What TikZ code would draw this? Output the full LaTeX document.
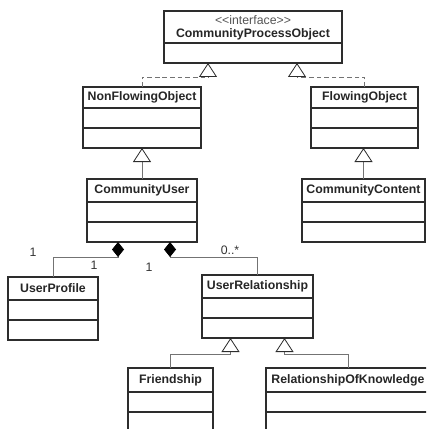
\documentclass[tikz,border=0pt]{standalone}
\usepackage{fontspec}
\setmainfont{Liberation Sans}
\usepackage{tikz}
\usetikzlibrary{arrows,arrows.meta}
\usetikzlibrary{calc}
\definecolor{rahmen}{RGB}{45,45,45}
\definecolor{linie}{RGB}{115,115,115}
\definecolor{stereo}{RGB}{85,85,85}

\tikzset{
	klasse/.style={draw=rahmen, line width=0.9pt, fill=white, inner sep=0pt, outer sep=0pt},
	klassename/.style={font=\fontsize{10.5}{13}\selectfont\bfseries, text=black!85, inner sep=0pt},
	stereotyp/.style={font=\fontsize{10.5}{12}\selectfont, text=stereo, inner sep=0pt},
	teiler/.style={rahmen, line width=0.9pt},
	gen/.style={linie, line width=0.7pt, -{Triangle[open, length=0.42cm, width=0.54cm, color=rahmen]}},
	real/.style={gen, dashed, dash pattern=on 4pt off 2.5pt},
	comp/.style={linie, line width=0.7pt, -{Diamond[length=0.45cm, width=0.36cm, color=black, fill=black]}},
	mult/.style={font=\fontsize{10.5}{12}\selectfont, text=black!80, inner sep=1pt}
}

% name, x, y, width, title height, title
\newcommand{\umlclass}[6]{%
	\node[klasse, minimum width=#4*0.03cm, minimum height=(#5+40)*0.03cm, anchor=north west] (#1) at (#2,#3) {};
	\node[klassename] (#1-name) at ($(#1.north)+(0,#5/2)$) {#6};
	\foreach \d in {#5,#5+20}
		\draw[teiler] ($(#1.north west)+(0,\d)$) -- ($(#1.north east)+(0,\d)$);
}

\begin{document}
\begin{tikzpicture}[x=0.03cm, y=-0.03cm]

	\useasboundingbox (0,0) rectangle (426,429);
	\clip (0,0) rectangle (426,429);

	% interface
	\node[klasse, minimum width=178*0.03cm, minimum height=52*0.03cm, anchor=north west] (cpo) at (164,11) {};
	\node[stereotyp] (cpo-stereo) at ($(cpo.north)+(0,9)$) {{<}{<}interface{>}{>}};
	\node[klassename] (cpo-name) at ($(cpo.north)+(0,23)$) {CommunityProcessObject};
	\draw[teiler] ($(cpo.north west)+(0,32)$) -- ($(cpo.north east)+(0,32)$);

	% classes
	\umlclass{nfo}{83}{87}{118}{21}{NonFlowingObject}
	\umlclass{fo}{311}{87}{107}{21}{FlowingObject}
	\umlclass{cu}{87}{179}{110}{23}{CommunityUser}
	\umlclass{cc}{302}{179}{123}{23}{CommunityContent}
	\umlclass{up}{8}{277}{90}{23}{UserProfile}
	\umlclass{ur}{202}{275}{111}{23}{UserRelationship}
	\umlclass{fr}{128}{368}{85}{24}{Friendship}
	\umlclass{rok}{266}{368}{164}{24}{RelationshipOfKnowledge}

	% realization
	\draw[real] (nfo.north) |- ($(cpo.south)+(-45,14)$) -- ($(cpo.south)+(-45,0)$);
	\draw[real] (fo.north) |- ($(cpo.south)+(44,14)$) -- ($(cpo.south)+(44,0)$);

	% generalization
	\draw[gen] (cu.north) -- (cu.north |- nfo.south);
	\draw[gen] (cc.north) -- (cc.north |- fo.south);
	\draw[gen] (fr.north) |- ($(ur.south)+(-27,16)$) -- ($(ur.south)+(-27,0)$);
	\draw[gen] (rok.north) |- ($(ur.south)+(27,16)$) -- ($(ur.south)+(27,0)$);

	% composition
	\draw[comp] (up.north) |- ($(cu.south)+(-24,15)$) -- ($(cu.south)+(-24,0)$);
	\draw[comp] (ur.north) |- ($(cu.south)+(28,15)$) -- ($(cu.south)+(28,0)$);

	\node[mult] (m-up) at (33,252) {1};
	\node[mult] (m-cu1) at (94,265) {1};
	\node[mult] (m-cu2) at (149,267) {1};
	\node[mult] (m-ur) at (230,250) {0..*};

\end{tikzpicture}
\end{document}
